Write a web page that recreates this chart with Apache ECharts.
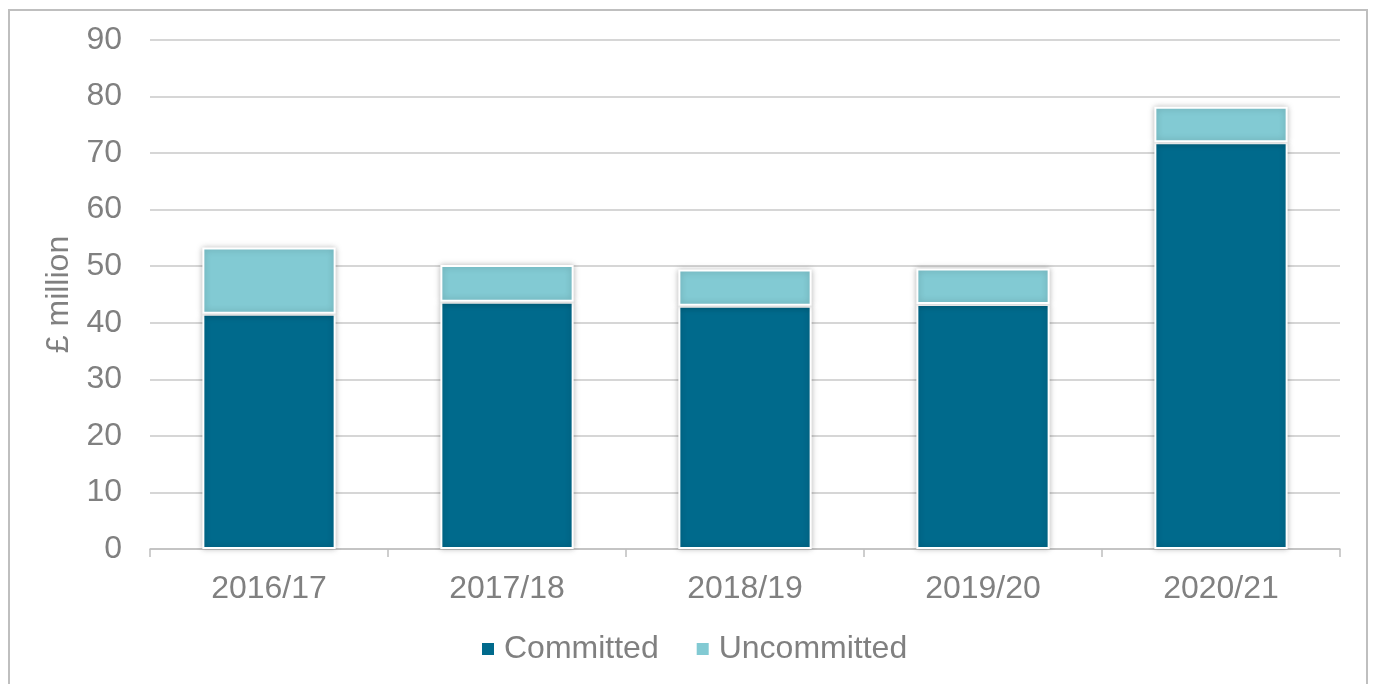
<!DOCTYPE html>
<html>
<head>
<meta charset="utf-8">
<script src="https://cdn.jsdelivr.net/npm/echarts@6/dist/echarts.min.js"></script>
<style>
  html, body { margin: 0; padding: 0; background: #fff; }
  #chart { width: 1375px; height: 684px; }
  #frame { position: absolute; left: 8px; top: 9px; width: 1360px; height: 700px; border: 2px solid #bfbfbf; box-sizing: border-box; pointer-events: none; }
</style>
</head>
<body>
<div id="chart"></div>
<div id="frame"></div>
<script>
const years = ['2016/17', '2017/18', '2018/19', '2019/20', '2020/21'];
const committed = [41.6, 43.7, 43.0, 43.3, 71.9];
const uncommitted = [11.7, 6.5, 6.4, 6.3, 6.3];
const yTicks = { min: 0, max: 90, interval: 10 };

const chart = echarts.init(document.getElementById('chart'));
const font = 'Liberation Sans, Arial, sans-serif';

const barStyle = (color) => ({
  color: color,
  borderColor: '#ffffff',
  borderWidth: 2,
  shadowColor: 'rgba(0,0,0,0.25)',
  shadowBlur: 6
});

chart.setOption({
  animation: false,
  textStyle: { fontFamily: font },
  grid: { left: 150, right: 35, top: 40, bottom: 135 },
  legend: {
    bottom: 14,
    left: 475,
    itemWidth: 14,
    itemHeight: 14,
    itemGap: 36,
    icon: 'rect',
    textStyle: { color: '#808080', fontSize: 32, fontFamily: font, padding: [0, 0, 0, 4] },
    data: ['Committed', 'Uncommitted']
  },
  xAxis: {
    type: 'category',
    data: years,
    axisLine: { lineStyle: { color: '#bfbfbf', width: 1.5 } },
    axisTick: { show: true, length: 8, lineStyle: { color: '#bfbfbf', width: 1.5 } },
    axisLabel: { color: '#808080', fontSize: 32, margin: 24, fontFamily: font }
  },
  yAxis: {
    type: 'value',
    min: yTicks.min,
    max: yTicks.max,
    interval: yTicks.interval,
    name: '£ million',
    nameLocation: 'middle',
    nameGap: 72,
    nameTextStyle: { color: '#808080', fontSize: 32, fontFamily: font },
    axisLine: { show: false },
    axisTick: { show: false },
    axisLabel: { color: '#808080', fontSize: 32, margin: 28, fontFamily: font },
    splitLine: { lineStyle: { color: '#c8c8c8', width: 1.5 } }
  },
  series: [
    {
      name: 'Committed',
      type: 'bar',
      stack: 'total',
      barWidth: '56%',
      data: committed,
      itemStyle: barStyle('#006a8c')
    },
    {
      name: 'Uncommitted',
      type: 'bar',
      stack: 'total',
      barWidth: '56%',
      data: uncommitted,
      itemStyle: barStyle('#82cad3')
    }
  ]
});
</script>
</body>
</html>
